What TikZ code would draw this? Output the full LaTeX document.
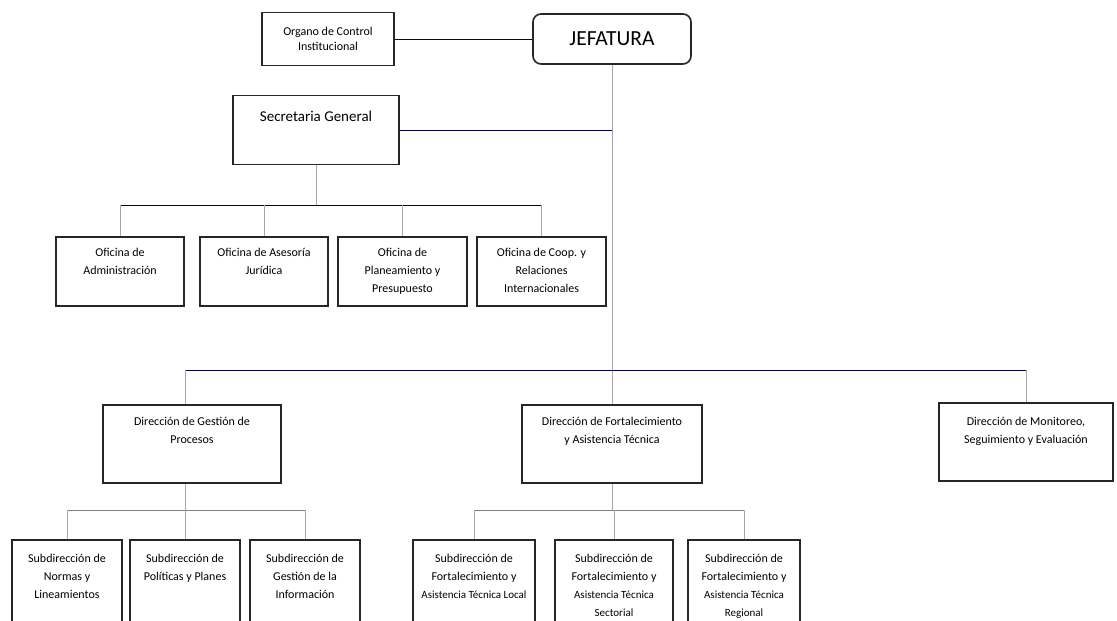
\documentclass[tikz,border=0pt]{standalone}
\usepackage{fontspec}
\setmainfont{Carlito}
\usetikzlibrary{positioning}

\newcommand{\atsmall}{\fontsize{11}{17.5}\selectfont}

\begin{document}
\begin{tikzpicture}[x=1pt, y=-1pt, every text node part/.style={align=center}]

\tikzstyle{bordered} = [rectangle,draw=black!85,line width=1.6pt,inner sep=0,font=\fontsize{12}{15}\selectfont]
\tikzstyle{caption} = [anchor=north,inner sep=0,align=center,font=\fontsize{12}{18}\selectfont]
\tikzstyle{hline} = [draw,black!70!blue,line width=0.8pt]
\tikzstyle{vline} = [draw,black!35,line width=0.6pt]
\tikzstyle{sline} = [draw,black!50,line width=0.7pt]

\clip (0,0) rectangle (1117,621);
\fill[white] (0,0) rectangle (1117,621);

% top level
\node [bordered, minimum width=132pt, minimum height=53pt] (organo) at (328,39) {Organo de Control\\Institucional};
\node [bordered, rounded corners=8pt, minimum width=158pt, minimum height=50pt, font=\fontsize{21.5}{24}\selectfont] (jefatura) at (612,39) {JEFATURA};
\node [bordered, minimum width=166pt, minimum height=69pt,
  label={[caption, yshift=-16pt, font=\fontsize{15}{18}\selectfont]90:Secretaria General}] (secretaria) at (316,130) {};

% oficinas
\node [bordered, minimum width=128pt, minimum height=69pt, label={[caption, yshift=-12pt]90:Oficina de\\Administración}] (o1) at (120,271.5) {};
\node [bordered, minimum width=128pt, minimum height=69pt, label={[caption, yshift=-12pt]90:Oficina de Asesoría\\Jurídica}] (o2) at (264,271.5) {};
\node [bordered, minimum width=129pt, minimum height=69pt, label={[caption, yshift=-12pt]90:Oficina de\\Planeamiento y\\Presupuesto}] (o3) at (402.5,271.5) {};
\node [bordered, minimum width=129pt, minimum height=69pt, label={[caption, yshift=-12pt]90:Oficina de Coop. y\\Relaciones\\Internacionales}] (o4) at (541.5,271.5) {};

% direcciones
\node [bordered, minimum width=178pt, minimum height=78pt, label={[caption, yshift=-13pt]90:Dirección de Gestión de\\Procesos}] (d1) at (192,444) {};
\node [bordered, minimum width=180pt, minimum height=78pt, label={[caption, yshift=-13pt]90:Dirección de Fortalecimiento\\y Asistencia Técnica}] (d2) at (612,444) {};
\node [bordered, minimum width=174pt, minimum height=78pt, label={[caption, yshift=-15pt]90:{Dirección de Monitoreo,\\Seguimiento y Evaluación}}] (d3) at (1026,442) {};

% subdirecciones
\node [bordered, minimum width=110pt, minimum height=100pt, label={[caption, yshift=-15pt]90:Subdirección de\\Normas y\\Lineamientos}] (s1) at (67,590) {};
\node [bordered, minimum width=110pt, minimum height=100pt, label={[caption, yshift=-15pt]90:Subdirección de\\Políticas y Planes}] (s2) at (185,590) {};
\node [bordered, minimum width=110pt, minimum height=100pt, label={[caption, yshift=-15pt]90:Subdirección de\\Gestión de la\\Información}] (s3) at (305,590) {};
\node [bordered, minimum width=122pt, minimum height=100pt, label={[caption, yshift=-15pt]90:Subdirección de\\Fortalecimiento y\\{\atsmall Asistencia Técnica Local}}] (s4) at (474,590) {};
\node [bordered, minimum width=118pt, minimum height=100pt, label={[caption, yshift=-15pt]90:Subdirección de\\Fortalecimiento y\\{\atsmall Asistencia Técnica}\\{\atsmall Sectorial}}] (s5) at (614,590) {};
\node [bordered, minimum width=112pt, minimum height=100pt, label={[caption, yshift=-15pt]90:Subdirección de\\Fortalecimiento y\\{\atsmall Asistencia Técnica}\\{\atsmall Regional}}] (s6) at (744,590) {};

\coordinate (obus) at (316,205);
\coordinate (dbus) at (612,370);
\coordinate (gbus) at (185,510);
\coordinate (fbus) at (612,510);

\path[hline] (organo) -- (jefatura);
\path[vline] (jefatura.south) -- (d2.north);
\path[hline] (secretaria.east) -- (secretaria.east -| jefatura.south);

\path[vline] (secretaria.south) -- (obus);
\path[hline] (o1.north |- obus) -- (o4.north |- obus);
\foreach \o in {o1,o2,o3,o4}
  \path[vline] (\o.north |- obus) -- (\o.north);

% D1 hangs from the same x as its middle sub-box
\path[hline] (s2.north |- dbus) -- (d3.north |- dbus);
\path[vline] (s2.north |- dbus) -- (s2.north |- d1.north);
\path[vline] (d3.north |- dbus) -- (d3.north);

\path[vline] (s2.north |- d1.south) -- (gbus);
\path[sline] (s1.north |- gbus) -- (s3.north |- gbus);
\foreach \s in {s1,s2,s3}
  \path[vline] (\s.north |- gbus) -- (\s.north);

\path[vline] (d2.south) -- (fbus);
\path[sline] (s4.north |- fbus) -- (s6.north |- fbus);
\foreach \s in {s4,s5,s6}
  \path[vline] (\s.north |- fbus) -- (\s.north);
\end{tikzpicture}
\end{document}
